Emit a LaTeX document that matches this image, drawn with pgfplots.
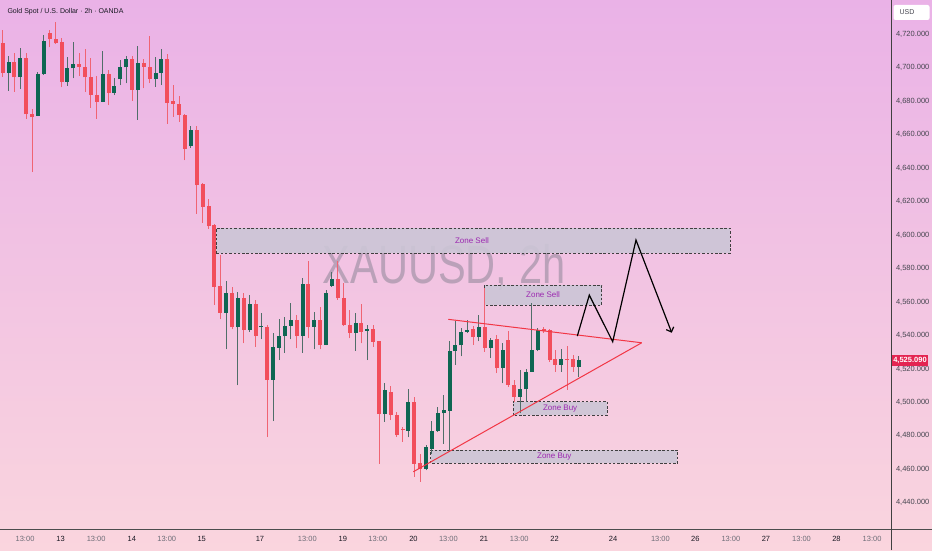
\documentclass[border=0pt]{standalone}
\usepackage{pgfplots}
\pgfplotsset{compat=1.18}
\usepackage{pgfplotstable}
\usetikzlibrary{arrows.meta}
\pgfdeclarelayer{background}
\pgfsetlayers{background,main}
\usepackage{fontspec}
\setmainfont{Liberation Sans}
\definecolor{bgtop}{RGB}{234,178,231}
\definecolor{bgbot}{RGB}{250,213,222}
\definecolor{upc}{RGB}{14,102,82}
\definecolor{upw}{RGB}{80,110,105}
\definecolor{dnc}{RGB}{242,78,92}
\definecolor{dnw}{RGB}{240,100,115}
\definecolor{tline}{RGB}{242,54,69}
\definecolor{zfill}{RGB}{204,198,214}
\definecolor{zlab}{RGB}{156,39,176}
\definecolor{tickc}{RGB}{70,70,80}
\definecolor{tgray}{RGB}{110,110,120}
\definecolor{tdark}{RGB}{25,25,35}
\definecolor{wmc}{RGB}{120,120,135}
\definecolor{pricered}{RGB}{228,36,82}
\newcommand{\hm}{\textcolor{tgray}{13:00}}
\newcommand{\dd}[1]{\textcolor{tdark}{#1}}

\pgfplotstableread{
i o h l c
1 4697.0 4707.0 4686.2 4703.6
3 4694.2 4711.6 4687.2 4706.0
6 4671.2 4697.6 4671.0 4696.2
7 4696.0 4719.6 4695.8 4716.2
11 4691.6 4706.2 4689.2 4699.6
12 4699.6 4715.6 4693.6 4702.0
17 4679.6 4710.2 4679.4 4696.2
19 4685.0 4693.6 4683.6 4689.2
20 4693.0 4704.6 4689.6 4700.2
21 4700.2 4707.0 4690.6 4705.0
23 4686.6 4713.0 4669.0 4702.6
26 4693.0 4706.2 4688.6 4697.0
27 4697.0 4711.0 4689.6 4705.0
32 4653.0 4665.0 4652.2 4662.6
38 4553.6 4572.6 4531.6 4565.2
40 4544.8 4566.2 4510.2 4562.2
42 4543.2 4564.2 4542.2 4558.8
44 4545.0 4553.6 4537.6 4545.8
46 4513.6 4541.6 4488.8 4533.2
47 4532.6 4549.6 4525.2 4539.6
48 4539.6 4551.2 4529.6 4545.8
49 4545.8 4559.6 4537.6 4549.2
51 4539.6 4574.2 4529.6 4570.8
53 4545.2 4554.2 4531.6 4549.2
55 4534.2 4567.2 4534.0 4565.6
56 4569.6 4577.6 4569.2 4573.6
60 4541.6 4553.6 4530.8 4547.6
62 4542.8 4546.2 4525.2 4543.6
65 4493.0 4511.4 4488.4 4507.4
69 4483.0 4507.8 4479.0 4500.4
72 4460.4 4474.4 4459.4 4473.4
73 4472.4 4489.0 4469.4 4482.8
74 4482.8 4497.0 4482.4 4493.8
75 4493.4 4504.4 4475.4 4495.4
76 4495.0 4536.4 4470.4 4530.4
77 4530.4 4548.4 4522.4 4534.0
78 4534.0 4544.4 4527.4 4541.8
79 4542.0 4549.4 4541.4 4543.0
81 4539.0 4552.4 4536.4 4544.8
83 4532.4 4538.4 4526.4 4537.4
85 4520.4 4535.4 4511.4 4531.4
88 4503.4 4519.4 4493.4 4507.8
89 4507.8 4519.8 4500.4 4518.4
90 4518.4 4559.4 4518.4 4531.4
91 4531.4 4544.4 4530.4 4543.4
95 4522.4 4531.8 4518.4 4526.0
98 4521.0 4527.6 4515.0 4525.09
}\up

\pgfplotstableread{
i o h l c
0 4714.6 4722.6 4694.6 4697.0
2 4703.6 4709.0 4685.6 4694.2
4 4706.0 4709.0 4669.6 4672.2
5 4672.6 4675.6 4637.6 4670.6
8 4720.6 4722.6 4712.2 4717.0
9 4717.0 4727.6 4714.2 4714.6
10 4715.6 4717.6 4688.2 4691.6
13 4702.2 4709.0 4695.0 4700.6
14 4700.6 4711.0 4685.6 4694.2
15 4694.2 4705.6 4676.2 4683.6
16 4683.6 4695.0 4669.6 4679.6
18 4696.2 4698.6 4677.6 4685.0
22 4705.0 4707.0 4680.2 4686.6
24 4702.6 4705.0 4687.6 4700.6
25 4700.6 4719.0 4690.6 4693.0
28 4705.0 4708.2 4666.6 4679.0
29 4680.0 4689.6 4670.6 4678.6
30 4678.6 4683.0 4667.6 4671.6
31 4671.6 4672.6 4644.6 4651.6
33 4662.8 4665.2 4612.8 4629.8
34 4630.4 4631.2 4607.2 4616.8
35 4617.2 4621.8 4603.8 4605.2
36 4606.2 4606.8 4558.2 4569.2
37 4569.6 4588.2 4549.6 4553.6
39 4565.2 4569.2 4543.6 4544.8
41 4562.2 4565.2 4535.2 4543.2
43 4558.8 4561.2 4533.2 4539.6
45 4545.2 4546.2 4479.2 4513.6
50 4549.2 4552.2 4532.2 4539.6
52 4570.8 4584.2 4538.2 4545.2
54 4549.2 4557.2 4531.6 4534.2
57 4573.6 4584.2 4561.2 4562.2
58 4562.2 4571.6 4545.6 4546.2
59 4546.2 4555.2 4538.2 4541.6
61 4547.6 4558.8 4535.2 4542.2
63 4543.6 4546.2 4533.2 4536.2
64 4536.4 4536.6 4463.4 4493.0
66 4506.4 4509.8 4489.4 4492.4
67 4492.4 4494.4 4479.4 4480.4
68 4484.0 4485.4 4476.4 4483.4
70 4500.4 4503.4 4455.4 4463.4
71 4463.8 4469.4 4452.4 4460.4
80 4543.8 4545.4 4534.4 4539.0
82 4544.8 4568.6 4530.2 4532.4
84 4537.8 4540.4 4517.4 4520.4
86 4537.4 4542.4 4509.4 4510.4
87 4510.4 4513.4 4500.4 4503.4
92 4543.8 4545.2 4541.6 4542.4
93 4543.0 4543.8 4524.4 4525.4
94 4526.0 4531.4 4518.4 4522.4
96 4526.2 4533.4 4507.4 4525.4
97 4526.0 4528.4 4518.4 4521.0
}\down

\begin{document}
\begin{tikzpicture}[x=1pt,y=1pt]
\begin{axis}[
  scale only axis,
  width=891pt, height=529pt,
  xmin=-0.459, xmax=151.07, ymin=4424.3, ymax=4740.46,
  axis x line*=bottom, axis y line*=right,
  axis line style={draw=none},
  major tick length=0pt,
  ytick={4440,4460,...,4720},
  yticklabels={{4,440.000},{4,460.000},{4,480.000},{4,500.000},{4,520.000},{4,540.000},{4,560.000},{4,580.000},{4,600.000},{4,620.000},{4,640.000},{4,660.000},{4,680.000},{4,700.000},{4,720.000}},
  yticklabel style={anchor=west, xshift=1.5pt, font=\fontsize{7.5}{8}\selectfont, text=tickc},
  xtick={3.8,9.85,15.9,21.95,27.9,33.85,43.75,51.8,57.85,63.8,69.85,75.8,81.85,87.85,93.85,103.8,111.85,117.8,123.85,129.8,135.85,141.8,147.85},
  xticklabels={\hm,\dd{13},\hm,\dd{14},\hm,\dd{15},\dd{17},\hm,\dd{19},\hm,\dd{20},\hm,\dd{21},\hm,\dd{22},\dd{24},\hm,\dd{26},\hm,\dd{27},\hm,\dd{28},\hm},
  xticklabel style={anchor=north, yshift=-4pt, font=\fontsize{7.5}{8}\selectfont},
]
\coordinate (BL) at (rel axis cs:0,0);
\coordinate (CP) at (axis cs:151.07,4525.09);
% watermark
\node[anchor=base, text=wmc, text opacity=0.45, font=\fontsize{54}{54}\selectfont] at (axis cs:75.05,4571.3) {\scalebox{0.77}[1]{XAUUSD, 2h}};
% zones
\draw[fill=zfill, fill opacity=0.9, draw=black!75, line width=0.7pt, dash pattern=on 2.5pt off 1.8pt] (axis cs:36.3,4589.1) rectangle (axis cs:123.7,4604.0);
\draw[fill=zfill, fill opacity=0.9, draw=black!75, line width=0.7pt, dash pattern=on 2.5pt off 1.8pt] (axis cs:81.85,4558.2) rectangle (axis cs:101.87,4570.1);
\draw[fill=zfill, fill opacity=0.9, draw=black!75, line width=0.7pt, dash pattern=on 2.5pt off 1.8pt] (axis cs:86.84,4492.4) rectangle (axis cs:102.82,4500.4);
\draw[fill=zfill, fill opacity=0.9, draw=black!75, line width=0.7pt, dash pattern=on 2.5pt off 1.8pt] (axis cs:72.79,4463.5) rectangle (axis cs:114.73,4471.5);
% candles: wicks
\addplot[draw=none, mark=none, forget plot, error bars/.cd, y dir=plus, y explicit, error mark=none, error bar style={line width=1pt, draw=upw, solid}] table[x=i, y=l, y error expr=\thisrow{h}-\thisrow{l}] {\up};
\addplot[draw=none, mark=none, forget plot, error bars/.cd, y dir=plus, y explicit, error mark=none, error bar style={line width=1pt, draw=dnw, solid}] table[x=i, y=l, y error expr=\thisrow{h}-\thisrow{l}] {\down};
% candles: bodies
\addplot[draw=none, mark=none, forget plot, error bars/.cd, y dir=plus, y explicit, error mark=none, error bar style={line width=4pt, draw=upc, solid}] table[x=i, y=o, y error expr=\thisrow{c}-\thisrow{o}] {\up};
\addplot[draw=none, mark=none, forget plot, error bars/.cd, y dir=plus, y explicit, error mark=none, error bar style={line width=4pt, draw=dnc, solid}] table[x=i, y=c, y error expr=\thisrow{o}-\thisrow{c}] {\down};
% triangle
\addplot[tline, line width=1pt, mark=none] coordinates {(75.78,4549.6) (108.67,4535.6)};
\addplot[tline, line width=1pt, mark=none] coordinates {(69.83,4458.5) (108.67,4535.6)};
% projected path
\addplot[black, line width=1.2pt, mark=none, -{Straight Barb[length=4pt,width=8pt]}] coordinates {(97.72,4539.6) (99.76,4564.1) (103.74,4536.2) (107.7,4597.0) (113.78,4541.6)};
% zone labels
\node[text=zlab, font=\fontsize{8}{9}\selectfont] at (axis cs:79.8,4596.6) {Zone Sell};
\node[text=zlab, font=\fontsize{8}{9}\selectfont] at (axis cs:91.9,4564.3) {Zone Sell};
\node[text=zlab, font=\fontsize{8}{9}\selectfont] at (axis cs:94.8,4496.3) {Zone Buy};
\node[text=zlab, font=\fontsize{8}{9}\selectfont] at (axis cs:93.8,4467.5) {Zone Buy};
\end{axis}
\begin{pgfonlayer}{background}
\shade[top color=bgtop, bottom color=bgbot] ([yshift=-21pt]BL) rectangle ([xshift=932pt,yshift=529pt]BL);
\end{pgfonlayer}
\draw[black!70, line width=1pt] (BL) -- ([xshift=932pt]BL);
\draw[black!75, line width=0.8pt] ([xshift=891pt,yshift=-21pt]BL) -- ([xshift=891pt,yshift=529pt]BL);
\node[fill=pricered, text=white, inner xsep=1.5pt, inner ysep=2pt, anchor=west, font=\fontsize{7.5}{8}\selectfont\bfseries] at ([xshift=0.6pt]CP) {4,525.090};
\fill[white, rounded corners=2pt] ([xshift=893.5pt,yshift=509pt]BL) rectangle ([xshift=929.5pt,yshift=524pt]BL);
\node[anchor=west, text=tickc, font=\fontsize{7}{8}\selectfont] at ([xshift=896pt,yshift=516.5pt]BL) {USD};
\node[anchor=west, text=tdark, font=\fontsize{7}{8}\selectfont] at ([xshift=4pt,yshift=517pt]BL) {Gold Spot / U.S. Dollar · 2h · OANDA};
\pgfresetboundingbox
\useasboundingbox ([yshift=-21pt]BL) rectangle ([xshift=932pt,yshift=529pt]BL);
\end{tikzpicture}
\end{document}
